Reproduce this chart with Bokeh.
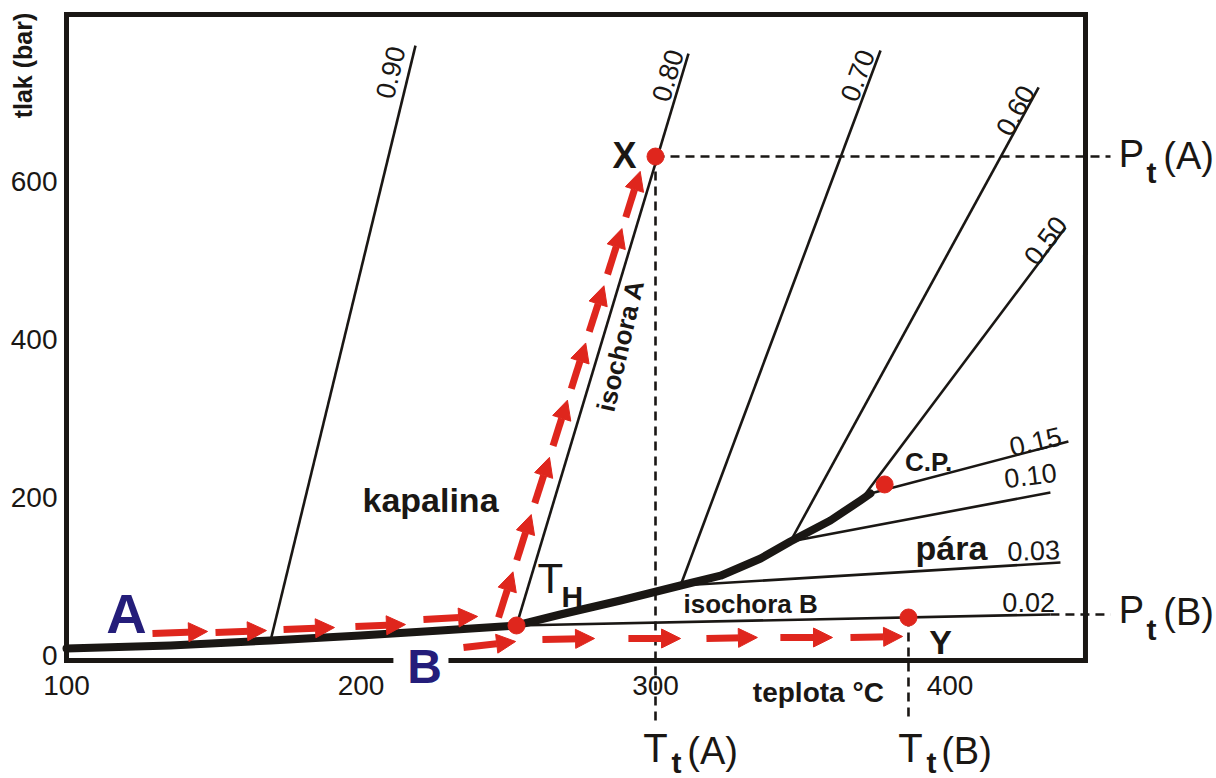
from bokeh.plotting import figure
from bokeh.models import ColumnDataSource, Arrow, NormalHead, FixedTicker
from bokeh.core.properties import value
from bokeh.embed import file_html
from bokeh.resources import INLINE

# ---------------- data (temperature in degC, pressure in bar) ----------------
x_ticks = [100, 200, 300, 400]
y_ticks = [0, 200, 400, 600]

# liquid-vapour (saturation) curve up to the critical region
sat_T = [100.0, 135.3, 169.3, 199.8, 227.0, 252.8, 267.7, 288.1, 308.5, 322.1, 335.7, 345.8, 359.4, 369.6, 373.0]
sat_P = [8.9, 12.7, 19.0, 25.3, 31.6, 38.0, 51.9, 69.6, 88.6, 101.0, 122.8, 144.3, 170.9, 196.2, 205.0]

# isochores (density g/cm3)
iso_names = ["0.90", "0.80", "0.70", "0.60", "0.50", "0.15", "0.10", "0.03", "0.02"]
iso_T0 = [169.3, 252.8, 308.5, 345.8, 369.6, 373.0, 345.8, 308.5, 252.8]
iso_P0 = [19.0, 38.0, 88.6, 144.3, 196.2, 205.0, 144.3, 88.6, 38.0]
iso_T1 = [218.5, 311.2, 376.4, 430.1, 439.2, 440.2, 434.1, 437.5, 434.1]
iso_P1 = [772.0, 762.0, 765.8, 719.0, 541.8, 270.9, 206.3, 117.7, 51.9]

# special points: T_H, X, Y, C.P.
pt_names = ["TH", "X", "Y", "CP"]
pt_T = [252.8, 300.0, 385.9, 377.8]
pt_P = [38.0, 631.6, 48.1, 216.5]

# trapping conditions
Tt_A, Pt_A = 300.0, 631.6
Tt_B, Pt_B = 385.9, 51.9

# heating path A (red arrows)
pathA_T0 = [129.2, 150.6, 173.7, 198.1, 221.2, 246.7, 252.9, 259.0, 265.2, 271.4, 277.5, 283.7, 289.9]
pathA_P0 = [27.8, 29.1, 32.9, 36.7, 45.6, 48.1, 120.5, 192.9, 265.3, 337.6, 410.0, 482.4, 554.8]
pathA_T1 = [147.9, 167.9, 191.0, 215.1, 239.6, 251.6, 257.8, 264.0, 270.1, 276.3, 282.5, 288.6, 294.8]
pathA_P1 = [30.4, 31.6, 35.4, 39.2, 49.4, 105.9, 178.4, 250.8, 323.2, 395.6, 468.0, 540.4, 612.8]

# heating path B (red arrows)
pathB_T0 = [234.8, 261.6, 290.8, 317.3, 342.4, 366.2]
pathB_P0 = [10.1, 20.3, 21.5, 21.5, 22.8, 22.8]
pathB_T1 = [252.5, 279.3, 308.5, 334.6, 360.1, 383.9]
pathB_P1 = [17.7, 21.5, 21.5, 22.8, 22.8, 24.1]

# ---------------- layout ----------------
T_lo, T_hi = 100.0, 446.0
P_lo, P_hi = -6.3, 811.4
gap_T0, gap_T1 = 211.0, 229.7

BLACK = "#1a1714"
RED = "#df261d"
NAVY = "#241d7a"
FONT = value("Liberation Sans")

p = figure(width=1216, height=778, x_range=(77.59, 490.49), y_range=(-155.70, 829.11),
           output_backend="svg", toolbar_location=None, title=None, min_border=0)
p.grid.visible = False
p.outline_line_color = None
p.background_fill_color = "white"
p.border_fill_color = "white"

for ax, loc, bnd, ticks, stand in [(p.xaxis[0], P_lo, (T_lo, T_hi), x_ticks, 16),
                                   (p.yaxis[0], T_lo, (P_lo, P_hi), y_ticks, 9)]:
    ax.fixed_location = loc
    ax.bounds = bnd
    ax.ticker = FixedTicker(ticks=ticks)
    ax.axis_line_color = None
    ax.major_tick_line_color = None
    ax.minor_tick_line_color = None
    ax.major_tick_out = 0
    ax.major_label_standoff = stand
    ax.major_label_text_font = "Liberation Sans"
    ax.major_label_text_font_size = "28px"
    ax.major_label_text_color = BLACK

# frame box (with a gap in the bottom edge for label B)
p.line([gap_T1, T_hi, T_hi, T_lo, T_lo, gap_T0], [P_lo, P_lo, P_hi, P_hi, P_lo, P_lo],
       line_width=5, line_color=BLACK, line_join="miter")

# isochores
p.segment(x0=iso_T0, y0=iso_P0, x1=iso_T1, y1=iso_P1, line_width=2.6, line_color=BLACK)

# saturation curve
p.line(sat_T, sat_P, line_width=8, line_color=BLACK, line_join="round", line_cap="round")

# dashed trapping lines
dash = dict(line_width=2.6, line_color=BLACK, line_dash="9 6")
p.line([Tt_A, 454.5], [Pt_A, Pt_A], **dash)
p.line([Tt_A, Tt_A], [Pt_A, -84.8], **dash)
p.line([Tt_B, Tt_B], [pt_P[2], -84.8], **dash)
p.line([iso_T1[-1], 454.5], [Pt_B, Pt_B], **dash)

# red arrows
for T0, P0, T1, P1 in [(pathA_T0, pathA_P0, pathA_T1, pathA_P1),
                       (pathB_T0, pathB_P0, pathB_T1, pathB_P1)]:
    src = ColumnDataSource(dict(x0=T0, y0=P0, x1=T1, y1=P1))
    p.add_layout(Arrow(end=NormalHead(size=19, fill_color=RED, line_color=RED, line_width=1),
                       x_start="x0", y_start="y0", x_end="x1", y_end="y1", source=src,
                       line_color=RED, line_width=7, line_cap="butt"))

# red points
p.scatter(pt_T, pt_P, size=17, color=RED)

# ---------------- texts ----------------
def txt(x, y, t, size, style="normal", color=BLACK, angle=0, align="center", baseline="middle"):
    p.text(x=x, y=y, text=t, text_font=FONT, text_font_size=size, text_font_style=style,
           text_color=color, angle=angle, angle_units="deg", text_align=align, text_baseline=baseline)

# isochore labels
txt([210.0], [738.0], ["0.90"], "27px", angle=76.3)
txt([304.1], [734.2], ["0.80"], "27px", angle=73.3)
txt([368.6], [734.2], ["0.70"], "27px", angle=69.5)
txt([422.2], [689.9], ["0.60"], "27px", angle=61.4)
txt([432.4], [525.3], ["0.50"], "27px", angle=53.0)
txt([429.0], [270.9], ["0.15"], "27px", angle=13.0)
txt([427.3], [227.8], ["0.10"], "27px", angle=7.0)
txt([428.4], [132.9], ["0.03"], "27px", angle=2.0)
txt([426.7], [67.1], ["0.02"], "27px")

txt([392.7], [244.3], ["C.P."], "26px", "bold")
txt([400.5], [136.7], ["pára"], "34px", "bold")
txt([223.6], [196.2], ["kapalina"], "34px", "bold")
txt([288.1], [392.4], ["isochora A"], "26px", "bold", angle=77.0)
txt([332.3], [64.6], ["isochora B"], "26px", "bold")
txt([264.3], [97.5], ["T"], "42px")
txt([271.8], [74.7], ["H"], "30px", "bold")
txt([289.5], [632.9], ["X"], "36px", "bold")
txt([396.8], [17.7], ["Y"], "34px", "bold")
txt([120.4], [53.2], ["A"], "56px", "bold", color=NAVY)
txt([221.6], [-13.9], ["B"], "48px", "bold", color=NAVY)

# axis titles
txt([85.2], [746.8], ["tlak (bar)"], "25px", "bold", angle=90)
txt([355.3], [-46.8], ["teplota °C"], "28px", "bold")

# trapping labels
txt([461.6, 461.6], [635.4, 57.0], ["P", "P"], "38px")
txt([468.4, 468.4], [611.4, 33.0], ["t", "t"], "30px", "bold")
txt([481.0, 481.0], [632.9, 54.5], ["(A)", "(B)"], "38px")
txt([300.0, 386.6], [-117.7, -117.7], ["T", "T"], "40px")
txt([307.1, 393.7], [-136.0, -136.0], ["t", "t"], "30px", "bold")
txt([319.4, 405.6], [-120.3, -120.3], ["(A)", "(B)"], "38px")

open("out.html", "w").write(file_html(p, INLINE))
